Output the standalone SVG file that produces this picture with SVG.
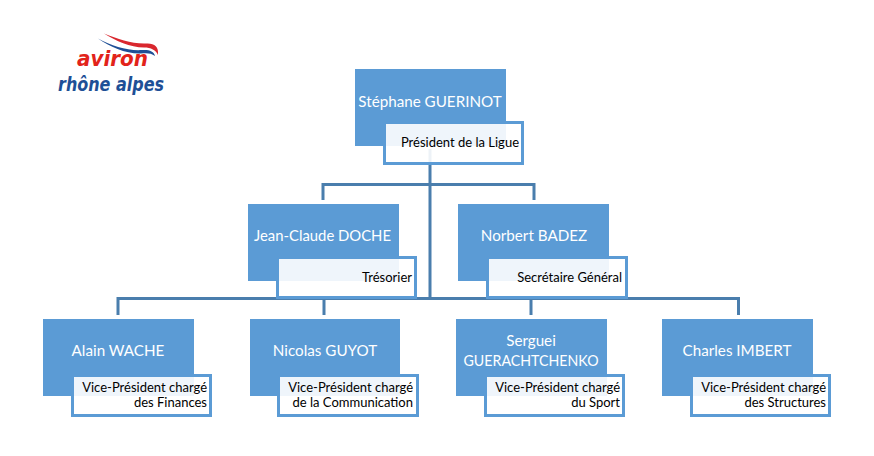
<svg xmlns="http://www.w3.org/2000/svg" width="874" height="456" viewBox="0 0 874 456">
<style>
.box{fill:#5b9bd5}
.sub{fill:#fff;fill-opacity:.9;stroke:#5b9bd5;stroke-width:3}
.name{font:15.200px Lato,"Liberation Sans",sans-serif;fill:#fff;text-anchor:middle}
.role{font:13px Lato,"Liberation Sans",sans-serif;fill:#000;text-anchor:end}
.line{fill:none;stroke:#4a7ead;stroke-width:3}
.logo{font-family:"DejaVu Sans",sans-serif;font-weight:700;font-style:italic;text-anchor:start}
</style>
<rect width="874" height="456" fill="#fff"/>
<g id="logo">
<path d="M104 33.500C118 39 132 44 146 43.500C154 43 159 46 158 55C156 50 151 47.500 144 47.500C130 47.500 116 41 104 33.500Z" fill="#d9272e"/>
<path d="M98 38.500C112 46 128 51 142 50C149 49.500 154 51 155 56C151 53 147 53 141 53.500C126 54 110 47 98 38.500Z" fill="#1e4f96"/>
<text class="logo" x="77" y="66" font-size="22" fill="#e2231a" textLength="71" lengthAdjust="spacingAndGlyphs">aviron</text>
<text class="logo" x="58" y="90.500" font-size="20" fill="#1e4f96" textLength="106" lengthAdjust="spacingAndGlyphs">rhône alpes</text>
</g>
<g id="connectors">
<path class="line" d="M430 149V299M323 200V184.500H534V200M118 315V298.500H738.500V315M324 299V315M531 299V315"/>
</g>
<g id="n1"><rect class="box" x="355" y="69" width="151" height="77"/><rect class="sub" x="384.500" y="122.500" width="138" height="41"/><text class="name" x="430" y="107">Stéphane GUERINOT</text><text class="role" x="519" y="147">Président de la Ligue</text></g>
<g id="n2"><rect class="box" x="248" y="204" width="151" height="77"/><rect class="sub" x="277.500" y="257.500" width="138" height="40"/><text class="name" x="322.500" y="241" textLength="137" lengthAdjust="spacingAndGlyphs">Jean-Claude DOCHE</text><text class="role" x="412" y="282">Trésorier</text></g>
<g id="n3"><rect class="box" x="458" y="204" width="151" height="77"/><rect class="sub" x="487.500" y="257.500" width="139" height="40"/><text class="name" x="534" y="241">Norbert BADEZ</text><text class="role" x="622" y="282">Secrétaire Général</text></g>
<g id="n4"><rect class="box" x="43" y="319" width="151" height="77"/><rect class="sub" x="72.500" y="375.500" width="138" height="40"/><text class="name" x="118" y="356">Alain WACHE</text><text class="role" x="207" y="392">Vice-Président chargé</text><text class="role" x="207" y="407">des Finances</text></g>
<g id="n5"><rect class="box" x="250" y="319" width="150" height="77"/><rect class="sub" x="278.500" y="375.500" width="139" height="40"/><text class="name" x="325" y="356">Nicolas GUYOT</text><text class="role" x="413" y="392">Vice-Président chargé</text><text class="role" x="413" y="407">de la Communication</text></g>
<g id="n6"><rect class="box" x="456" y="319" width="151" height="77"/><rect class="sub" x="485.500" y="375.500" width="138" height="40"/><text class="name" x="531" y="346">Serguei</text><text class="name" x="531" y="366" textLength="135" lengthAdjust="spacingAndGlyphs">GUERACHTCHENKO</text><text class="role" x="620" y="392">Vice-Président chargé</text><text class="role" x="620" y="407">du Sport</text></g>
<g id="n7"><rect class="box" x="662" y="319" width="151" height="77"/><rect class="sub" x="691.500" y="375.500" width="138" height="40"/><text class="name" x="737" y="356">Charles IMBERT</text><text class="role" x="826" y="392">Vice-Président chargé</text><text class="role" x="826" y="407">des Structures</text></g>
</svg>
